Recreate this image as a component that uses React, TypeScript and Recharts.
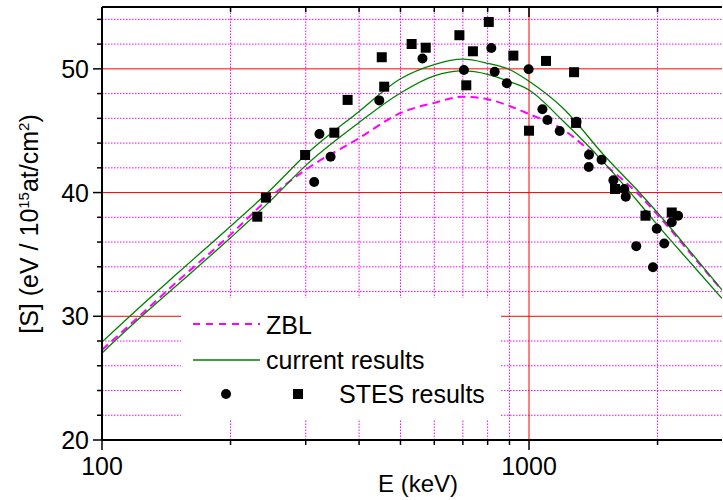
import React from 'react';
import { ComposedChart, Line, Scatter, XAxis, YAxis, ReferenceLine } from 'recharts';

// curves, sampled on a common energy grid (keV)
const energies = [100, 120, 150, 200, 250, 300, 400, 500, 600, 700, 800, 900, 1000, 1200, 1500, 1800, 2000, 2400, 2830];
const zblValues = [27.28, 29.75, 32.8, 36.6, 39.75, 41.85, 44.4, 46.43, 47.25, 47.75, 47.55, 47.0, 46.35, 45.1, 42.3, 39.9, 38.2, 35.0, 32.1];
const currentUpper = [27.92, 30.45, 33.45, 37.28, 40.33, 43.05, 46.56, 49.2, 50.35, 50.78, 50.45, 49.95, 49.0, 46.84, 43.0, 40.13, 38.37, 35.13, 32.13];
const currentLower = [27.03, 29.57, 32.53, 36.35, 39.45, 42.2, 45.67, 48.05, 49.43, 49.83, 49.56, 48.97, 48.29, 45.8, 42.4, 39.26, 37.37, 34.25, 31.45];

// STES results, two marker sets
const circleE = [314, 323, 343, 446, 563, 704, 816, 831, 887, 998, 1075, 1104, 1180, 1292, 1382, 1380, 1479, 1576, 1672, 1685, 1876, 1783, 1991, 2073, 1951, 2159, 2234];
const circleS = [40.86, 44.74, 42.9, 47.45, 50.83, 49.91, 51.69, 49.77, 48.84, 49.97, 46.73, 45.87, 44.98, 45.73, 43.06, 42.07, 42.66, 40.99, 40.28, 39.67, 38.16, 35.67, 37.08, 35.89, 33.96, 37.6, 38.13];
const squareE = [231, 242, 299, 350, 376, 452, 458, 531, 573, 687, 739, 713, 805, 919, 1000, 1096, 1275, 1289, 1590, 1874, 2159];
const squareS = [38.05, 39.59, 43.04, 44.84, 47.49, 50.94, 48.56, 52.01, 51.71, 52.72, 51.42, 48.67, 53.79, 51.07, 45.0, 50.64, 49.73, 45.63, 40.29, 38.13, 38.39];

const xMajorTicks = [100, 1000];
const xMinorTicks = [200, 300, 400, 500, 600, 700, 800, 900, 2000];
const yMajorTicks = [20, 30, 40, 50];
const yMinorTicks = [22, 24, 26, 28, 32, 34, 36, 38, 42, 44, 46, 48, 52, 54];

const X_DOMAIN = [100, 2831];
const Y_DOMAIN = [20, 55];
const PLOT_TOP = 7;
const FONT = '"Liberation Sans", Arial, sans-serif';

const curveRows = energies.map((E, i) => ({ E, zbl: zblValues[i], upper: currentUpper[i], lower: currentLower[i] }));
const circleRows = circleE.map((E, i) => ({ E, S: circleS[i] }));
const squareRows = squareE.map((E, i) => ({ E, S: squareS[i] }));

function XTick(props: any) {
  const { x, y, payload } = props;
  const major = xMajorTicks.includes(payload.value);
  const len = major ? 10 : 5;
  return (
    <g>
      <line x1={x} x2={x} y1={y} y2={y + len} stroke="#000" strokeWidth={1.5} />
      <line x1={x} x2={x} y1={PLOT_TOP} y2={PLOT_TOP + len} stroke="#000" strokeWidth={1.5} />
      {major && (
        <text x={x} y={y + 35} textAnchor="middle" fontSize={25} fill="#000" fontFamily={FONT}>
          {payload.value}
        </text>
      )}
    </g>
  );
}

function YTick(props: any) {
  const { x, y, payload } = props;
  const major = yMajorTicks.includes(payload.value);
  const len = major ? 9 : 5;
  return (
    <g>
      <line x1={x - len} x2={x} y1={y} y2={y} stroke="#000" strokeWidth={1.5} />
      {major && (
        <text x={x - 13} y={y + 9} textAnchor="end" fontSize={25} fill="#000" fontFamily={FONT}>
          {payload.value}
        </text>
      )}
    </g>
  );
}

const circleShape = (p: any) => <circle cx={p.cx} cy={p.cy} r={5} fill="#000" />;
const squareShape = (p: any) => <rect x={p.cx - 5} y={p.cy - 5} width={10} height={10} fill="#000" />;

export default function App() {
  return (
    <div style={{ position: 'absolute', left: 0, top: 0, width: 723, height: 500, fontFamily: FONT, background: '#fff' }}>
      <ComposedChart width={723} height={500} data={curveRows} margin={{ top: PLOT_TOP, right: 1, bottom: 0, left: 42 }}>
        {yMinorTicks.map((v) => (
          <ReferenceLine key={'hy' + v} y={v} stroke="#ff00ff" strokeWidth={1} strokeDasharray="1.5 1.5" />
        ))}
        {xMinorTicks.map((v) => (
          <ReferenceLine key={'hx' + v} x={v} stroke="#ff00ff" strokeWidth={1} strokeDasharray="1.5 1.5" />
        ))}
        {yMajorTicks.slice(1).map((v) => (
          <ReferenceLine key={'my' + v} y={v} stroke="#ff0000" strokeWidth={1} />
        ))}
        <ReferenceLine x={1000} stroke="#ff0000" strokeWidth={1} />
        <ReferenceLine y={55} stroke="#000" strokeWidth={2} />
        <XAxis
          dataKey="E"
          type="number"
          scale="log"
          domain={X_DOMAIN}
          allowDataOverflow
          ticks={[...xMajorTicks, ...xMinorTicks].sort((a, b) => a - b)}
          interval={0}
          tick={<XTick />}
          tickLine={false}
          tickSize={0}
          tickMargin={0}
          height={60}
          axisLine={{ stroke: '#000', strokeWidth: 2 }}
        />
        <YAxis
          type="number"
          domain={Y_DOMAIN}
          allowDataOverflow
          ticks={[...yMajorTicks, ...yMinorTicks].sort((a, b) => a - b)}
          interval={0}
          tick={<YTick />}
          tickLine={false}
          tickSize={0}
          tickMargin={0}
          width={60}
          axisLine={{ stroke: '#000', strokeWidth: 2 }}
        />
        <Line dataKey="zbl" type="monotone" stroke="#ff00ff" strokeWidth={2} strokeDasharray="8 5" dot={false} isAnimationActive={false} />
        <Line dataKey="upper" type="monotone" stroke="#008000" strokeWidth={1.3} dot={false} isAnimationActive={false} />
        <Line dataKey="lower" type="monotone" stroke="#008000" strokeWidth={1.3} dot={false} isAnimationActive={false} />
        <Scatter data={circleRows} dataKey="S" shape={circleShape} isAnimationActive={false} />
        <Scatter data={squareRows} dataKey="S" shape={squareShape} isAnimationActive={false} />
      </ComposedChart>
      <svg width={723} height={500} style={{ position: 'absolute', left: 0, top: 0, pointerEvents: 'none' }} fontFamily={FONT}>
        <rect x={181} y={298} width={320} height={122} fill="#fff" />
        <line x1={193} x2={260} y1={324} y2={324} stroke="#ff00ff" strokeWidth={2} strokeDasharray="7 6" />
        <text x={266} y={334} fontSize={25} fill="#000">ZBL</text>
        <line x1={193} x2={260} y1={360} y2={360} stroke="#008000" strokeWidth={1.3} />
        <text x={266} y={369} fontSize={25} fill="#000">current results</text>
        <circle cx={226} cy={394} r={5} fill="#000" />
        <rect x={293} y={389} width={10} height={10} fill="#000" />
        <text x={339} y={403} fontSize={25} fill="#000">STES results</text>
        <text x={418} y={492} fontSize={24} fill="#000" textAnchor="middle">E (keV)</text>
        <text transform="translate(37.5,224) rotate(-90)" fontSize={25} fill="#000" textAnchor="middle">
          [S] (eV / 10<tspan dy={-9} fontSize={15}>15</tspan>
          <tspan dy={9}>at/cm</tspan>
          <tspan dy={-9} fontSize={15}>2</tspan>
          <tspan dy={9}>)</tspan>
        </text>
      </svg>
    </div>
  );
}
